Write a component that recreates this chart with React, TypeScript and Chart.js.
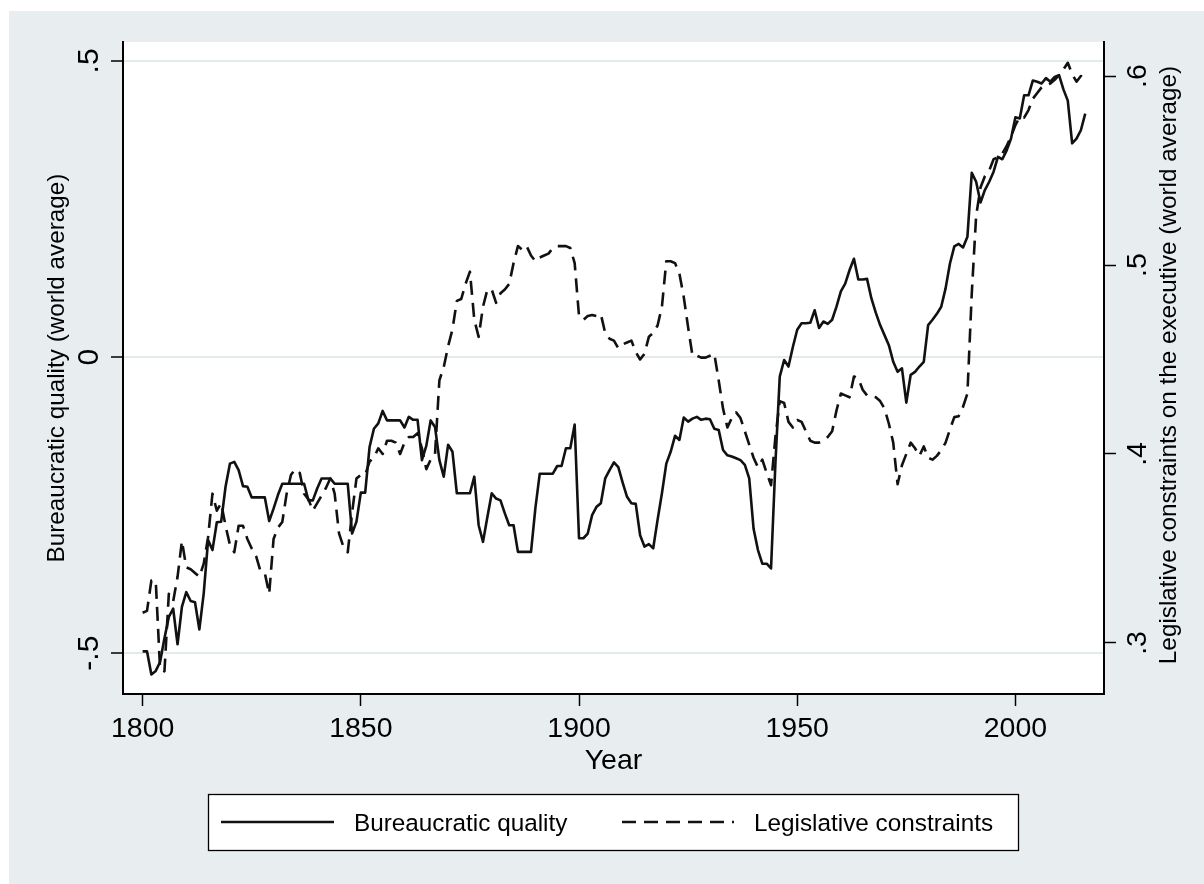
import React, { useEffect, useRef } from "react";
import { Chart, registerables } from "chart.js";

Chart.register(...registerables);

// ---------------- Data ----------------
const START_YEAR = 1800;

const bureaucraticQuality: number[] = [
  -0.497, -0.497, -0.536, -0.530, -0.515, -0.475, -0.439, -0.425, -0.485, -0.422, // 1800-1809
  -0.397, -0.412, -0.414, -0.460, -0.399, -0.309, -0.326, -0.279, -0.278, -0.219, // 1810-1819
  -0.180, -0.177, -0.191, -0.218, -0.219, -0.237, -0.237, -0.237, -0.237, -0.277, // 1820-1829
  -0.256, -0.233, -0.214, -0.214, -0.214, -0.214, -0.214, -0.214, -0.242, -0.242, // 1830-1839
  -0.222, -0.205, -0.205, -0.205, -0.214, -0.214, -0.214, -0.214, -0.298, -0.278, // 1840-1849
  -0.229, -0.229, -0.152, -0.121, -0.112, -0.091, -0.107, -0.107, -0.107, -0.107, // 1850-1859
  -0.119, -0.101, -0.106, -0.106, -0.174, -0.150, -0.107, -0.118, -0.174, -0.202, // 1860-1869
  -0.148, -0.160, -0.230, -0.230, -0.230, -0.230, -0.202, -0.284, -0.312, -0.270, // 1870-1879
  -0.230, -0.239, -0.242, -0.264, -0.284, -0.284, -0.329, -0.329, -0.329, -0.329, // 1880-1889
  -0.255, -0.197, -0.197, -0.197, -0.197, -0.184, -0.184, -0.154, -0.154, -0.114, // 1890-1899
  -0.306, -0.306, -0.298, -0.267, -0.253, -0.247, -0.205, -0.191, -0.178, -0.186, // 1900-1909
  -0.212, -0.236, -0.247, -0.248, -0.301, -0.320, -0.316, -0.323, -0.275, -0.230, // 1910-1919
  -0.180, -0.160, -0.133, -0.140, -0.102, -0.109, -0.104, -0.101, -0.106, -0.104, // 1920-1929
  -0.105, -0.121, -0.123, -0.157, -0.166, -0.168, -0.171, -0.174, -0.182, -0.205, // 1930-1939
  -0.290, -0.326, -0.349, -0.349, -0.357, -0.180, -0.033, -0.005, -0.016, 0.017,  // 1940-1949
  0.046, 0.057, 0.057, 0.058, 0.079, 0.049, 0.060, 0.056, 0.063, 0.085,           // 1950-1959
  0.111, 0.124, 0.147, 0.166, 0.131, 0.131, 0.132, 0.099, 0.075, 0.054,           // 1960-1969
  0.037, 0.020, -0.008, -0.025, -0.019, -0.077, -0.030, -0.025, -0.016, -0.008,   // 1970-1979
  0.054, 0.063, 0.073, 0.085, 0.116, 0.158, 0.187, 0.191, 0.185, 0.203,           // 1980-1989
  0.311, 0.296, 0.261, 0.282, 0.296, 0.313, 0.338, 0.334, 0.349, 0.369,           // 1990-1999
  0.405, 0.403, 0.442, 0.442, 0.467, 0.465, 0.462, 0.471, 0.465, 0.473,           // 2000-2009
  0.476, 0.452, 0.433, 0.361, 0.369, 0.383, 0.411,                                // 2010-2016
];

const legislativeConstraints: number[] = [
  0.316, 0.317, 0.333, 0.333, 0.286, 0.285, 0.326, 0.322, 0.335, 0.354, // 1800-1809
  0.340, 0.339, 0.337, 0.335, 0.342, 0.356, 0.379, 0.370, 0.374, 0.362, // 1810-1819
  0.352, 0.348, 0.362, 0.362, 0.355, 0.350, 0.346, 0.338, 0.337, 0.326, // 1820-1829
  0.355, 0.361, 0.364, 0.379, 0.389, 0.392, 0.390, 0.379, 0.376, 0.370, // 1830-1839
  0.374, 0.378, 0.382, 0.387, 0.379, 0.358, 0.351, 0.348, 0.369, 0.387, // 1840-1849
  0.389, 0.389, 0.396, 0.398, 0.403, 0.400, 0.407, 0.407, 0.406, 0.400, // 1850-1859
  0.406, 0.409, 0.409, 0.411, 0.403, 0.392, 0.397, 0.400, 0.439, 0.446, // 1860-1869
  0.457, 0.466, 0.481, 0.482, 0.490, 0.4965, 0.471, 0.462, 0.478, 0.487, // 1870-1879
  0.487, 0.480, 0.485, 0.487, 0.490, 0.501, 0.510, 0.508, 0.510, 0.505, // 1880-1889
  0.502, 0.504, 0.505, 0.506, 0.509, 0.510, 0.510, 0.510, 0.509, 0.501, // 1890-1899
  0.473, 0.471, 0.473, 0.4735, 0.473, 0.474, 0.464, 0.461, 0.460, 0.456, // 1900-1909
  0.458, 0.459, 0.460, 0.454, 0.450, 0.453, 0.462, 0.464, 0.468, 0.478, // 1910-1919
  0.502, 0.502, 0.501, 0.4955, 0.483, 0.467, 0.452, 0.452, 0.451, 0.451, // 1920-1929
  0.452, 0.453, 0.439, 0.424, 0.414, 0.419, 0.422, 0.419, 0.412, 0.405, // 1930-1939
  0.398, 0.393, 0.397, 0.390, 0.3835, 0.409, 0.428, 0.427, 0.417, 0.414, // 1940-1949
  0.418, 0.417, 0.412, 0.407, 0.406, 0.406, 0.407, 0.409, 0.412, 0.423, // 1950-1959
  0.432, 0.431, 0.430, 0.441, 0.440, 0.434, 0.431, 0.431, 0.430, 0.428, // 1960-1969
  0.424, 0.416, 0.406, 0.384, 0.394, 0.400, 0.406, 0.403, 0.399, 0.404, // 1970-1979
  0.398, 0.397, 0.399, 0.402, 0.406, 0.413, 0.4195, 0.420, 0.425, 0.432, // 1980-1989
  0.485, 0.526, 0.541, 0.547, 0.550, 0.556, 0.557, 0.559, 0.563, 0.568, // 1990-1999
  0.574, 0.5785, 0.578, 0.582, 0.588, 0.591, 0.594, 0.595, 0.596, 0.598, // 2000-2009
  0.6005, 0.6035, 0.607, 0.601, 0.597, 0.600, 0.598,                     // 2010-2016
];

const years: number[] = bureaucraticQuality.map((_, i) => START_YEAR + i);

const xTicks: number[] = [1800, 1850, 1900, 1950, 2000];
const leftTicks: number[] = [-0.5, 0, 0.5];
const rightTicks: number[] = [0.3, 0.4, 0.5, 0.6];

const seriesNames: string[] = ["Bureaucratic quality", "Legislative constraints"];
const xTitle = "Year";
const leftTitle = "Bureaucratic quality (world average)";
const rightTitle = "Legislative constraints on the executive (world average)";

// ---------------- Styles ----------------
const FONT = '"Liberation Sans", Arial, Helvetica, sans-serif';
const REGION_BG = "#e8eef0";
const GRID = "#e3eaec";
const INK = "#111111";
const DASH = [14, 8];

const stataFmt = (v: number) => {
  if (v === 0) return "0";
  const s = String(Math.round(v * 1000) / 1000);
  return s.replace(/^(-?)0\./, "$1.");
};

const drawRotated = (
  ctx: CanvasRenderingContext2D,
  text: string,
  x: number,
  y: number
) => {
  ctx.save();
  ctx.translate(x, y);
  ctx.rotate(-Math.PI / 2);
  ctx.textAlign = "center";
  ctx.textBaseline = "alphabetic";
  ctx.fillText(text, 0, 0);
  ctx.restore();
};

const stataPlugin = {
  id: "stataLook",
  beforeDraw(chart: any) {
    const { ctx, chartArea: ca, width, height } = chart;
    ctx.save();
    ctx.fillStyle = "#ffffff";
    ctx.fillRect(0, 0, width, height);
    ctx.fillStyle = REGION_BG;
    ctx.fillRect(9, 11, width - 9, height - 11);
    ctx.fillStyle = "#ffffff";
    ctx.fillRect(ca.left, ca.top, ca.right - ca.left, ca.bottom - ca.top);
    ctx.restore();
  },
  afterDraw(chart: any) {
    const { ctx, chartArea: ca } = chart;
    const xs = chart.scales.x;
    const yl = chart.scales.y;
    const yr = chart.scales.y1;
    ctx.save();
    ctx.fillStyle = "#000";

    // x tick labels
    ctx.font = `28.5px ${FONT}`;
    ctx.textAlign = "center";
    ctx.textBaseline = "alphabetic";
    xs.ticks.forEach((t: any) => {
      ctx.fillText(String(t.value), xs.getPixelForValue(t.value), ca.bottom + 43);
    });
    // x title
    ctx.fillText(xTitle, (ca.left + ca.right) / 2, ca.bottom + 75);

    // y tick labels (rotated)
    ctx.font = `30px ${FONT}`;
    yl.ticks.forEach((t: any) => {
      drawRotated(ctx, stataFmt(t.value), ca.left - 25, yl.getPixelForValue(t.value));
    });
    ctx.font = `28.5px ${FONT}`;
    yr.ticks.forEach((t: any) => {
      drawRotated(ctx, stataFmt(t.value), ca.right + 42, yr.getPixelForValue(t.value));
    });

    // axis titles
    ctx.font = `24.3px ${FONT}`;
    drawRotated(ctx, leftTitle, 64, (ca.top + ca.bottom) / 2);
    drawRotated(ctx, rightTitle, 1176, (ca.top + ca.bottom) / 2 - 3);

    // legend
    const lx = 208.5, ly = 794.5, lw = 810, lh = 56;
    ctx.fillStyle = "#ffffff";
    ctx.fillRect(lx, ly, lw, lh);
    ctx.strokeStyle = "#000";
    ctx.lineWidth = 1.3;
    ctx.strokeRect(lx, ly, lw, lh);
    const ds = chart.data.datasets;
    const sampleY = 822;
    const samples = [
      { x0: 221, x1: 334, tx: 354 },
      { x0: 622, x1: 734, tx: 754 },
    ];
    samples.forEach((s, i) => {
      ctx.beginPath();
      ctx.strokeStyle = ds[i].borderColor;
      ctx.lineWidth = ds[i].borderWidth;
      ctx.setLineDash(ds[i].borderDash || []);
      ctx.moveTo(s.x0, sampleY);
      ctx.lineTo(s.x1, sampleY);
      ctx.stroke();
      ctx.setLineDash([]);
      ctx.fillStyle = "#000";
      ctx.font = `24.3px ${FONT}`;
      ctx.textAlign = "left";
      ctx.textBaseline = "alphabetic";
      ctx.fillText(ds[i].label, s.tx, 831);
    });
    ctx.restore();
  },
};

export default function App() {
  const canvasRef = useRef<HTMLCanvasElement | null>(null);

  useEffect(() => {
    const canvas = canvasRef.current;
    if (!canvas) return;
    const chart = new Chart(canvas, {
      type: "line",
      data: {
        datasets: [
          {
            label: seriesNames[0],
            data: years.map((yr, i) => ({ x: yr, y: bureaucraticQuality[i] })),
            yAxisID: "y",
            borderColor: INK,
            borderWidth: 2.6,
            pointRadius: 0,
            tension: 0,
            borderJoinStyle: "round",
            fill: false,
          },
          {
            label: seriesNames[1],
            data: years.map((yr, i) => ({ x: yr, y: legislativeConstraints[i] })),
            yAxisID: "y1",
            borderColor: INK,
            borderWidth: 2.6,
            borderDash: DASH,
            pointRadius: 0,
            tension: 0,
            borderJoinStyle: "round",
            fill: false,
          },
        ],
      } as any,
      options: {
        animation: false,
        responsive: false,
        devicePixelRatio: 1,
        layout: { padding: { top: 42, left: 0, right: 0, bottom: 0 } },
        plugins: {
          legend: { display: false },
          title: { display: false },
          tooltip: { enabled: false },
        },
        scales: {
          x: {
            type: "linear",
            position: "bottom",
            min: 1795.5,
            max: 2020.3,
            afterBuildTicks: (s: any) => {
              s.ticks = xTicks.map((v) => ({ value: v }));
            },
            afterFit: (s: any) => {
              s.height = 190;
            },
            ticks: { display: false },
            grid: {
              drawOnChartArea: false,
              drawTicks: true,
              tickLength: 12,
              tickColor: "#000",
              tickWidth: 1.5,
            },
            border: { display: true, color: "#000", width: 2 },
          },
          y: {
            type: "linear",
            position: "left",
            min: -0.569,
            max: 0.532,
            afterBuildTicks: (s: any) => {
              s.ticks = leftTicks.map((v) => ({ value: v }));
            },
            afterFit: (s: any) => {
              s.width = 123;
            },
            ticks: { display: false },
            grid: {
              drawOnChartArea: true,
              color: GRID,
              lineWidth: 2,
              drawTicks: true,
              tickLength: 12,
              tickColor: "#000",
              tickWidth: 1.5,
            },
            border: { display: true, color: "#000", width: 2 },
          },
          y1: {
            type: "linear",
            position: "right",
            min: 0.273,
            max: 0.618,
            afterBuildTicks: (s: any) => {
              s.ticks = rightTicks.map((v) => ({ value: v }));
            },
            afterFit: (s: any) => {
              s.width = 100;
            },
            ticks: { display: false },
            grid: {
              drawOnChartArea: false,
              drawTicks: true,
              tickLength: 12,
              tickColor: "#000",
              tickWidth: 1.5,
            },
            border: { display: true, color: "#000", width: 2 },
          },
        },
      } as any,
      plugins: [stataPlugin],
    });
    return () => chart.destroy();
  }, []);

  return (
    <div style={{ position: "absolute", left: 0, top: 0, width: 1204, height: 884 }}>
      <canvas
        ref={canvasRef}
        width={1204}
        height={884}
        style={{ width: 1204, height: 884, display: "block" }}
      />
    </div>
  );
}
